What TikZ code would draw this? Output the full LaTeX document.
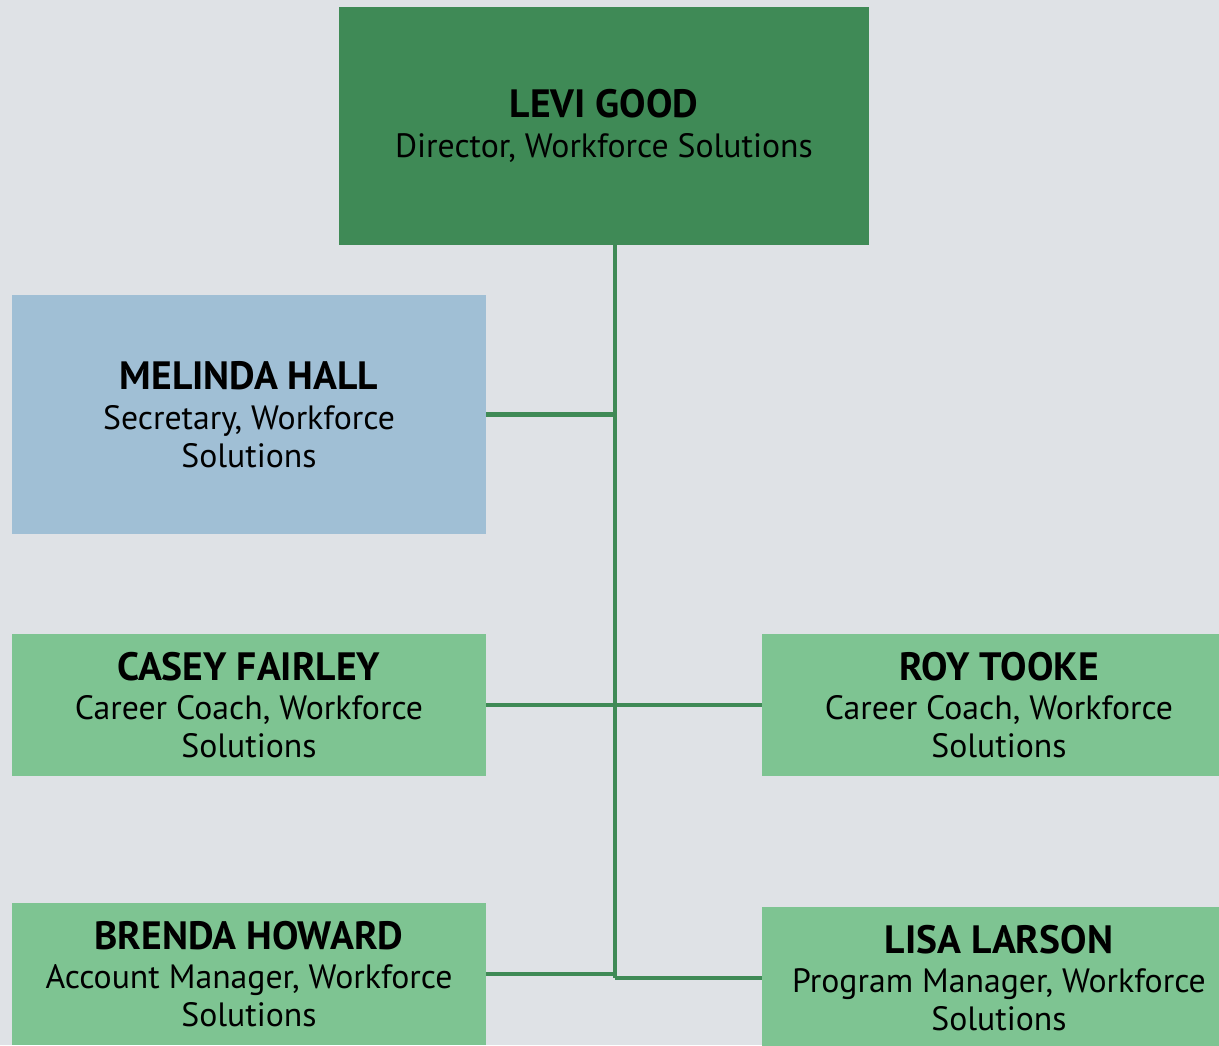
\documentclass[tikz,border=0pt]{standalone}
\usepackage{fontspec}
\setmainfont{PT Sans}
\usepackage{tikz}
\usetikzlibrary{calc,positioning}
\definecolor{pagegray}{HTML}{DFE2E6}
\definecolor{topgreen}{HTML}{3F8A56}
\definecolor{staffblue}{HTML}{A0BFD5}
\definecolor{staffgreen}{HTML}{7EC492}
\tikzset{
  person/.style={inner sep=0pt, align=center, text=black,
    font=\fontsize{19.2}{21.6}\selectfont},
  headbox/.style={person, fill=topgreen, minimum width=10.6cm, minimum height=4.76cm},
  secbox/.style={person, fill=staffblue, minimum width=9.48cm, minimum height=4.78cm},
  staffbox/.style={person, fill=staffgreen, minimum width=9.48cm, minimum height=2.84cm},
  link/.style={draw=topgreen, line width=2.5pt}
}
\newcommand{\who}[1]{{\fontsize{22.5}{28}\selectfont\bfseries #1}\\[1pt]}

\begin{document}
\begin{tikzpicture}[x=0.02cm, y=-0.02cm]
  \fill[pagegray] (0,0) rectangle (1219,1045);
  \useasboundingbox (0,0) rectangle (1219,1045);
  \clip (0,0) rectangle (1219,1045);

  \node[headbox] (levi) at (604,126) {\who{LEVI GOOD}Director, Workforce Solutions};
  \node[secbox] (melinda) at (249,414.5) {\who{MELINDA HALL}Secretary, Workforce\\Solutions};
  \node[staffbox] (casey) at (249,705) {\who{CASEY FAIRLEY}Career Coach, Workforce\\Solutions};
  \node[staffbox] (roy) at (999,705) {\who{ROY TOOKE}Career Coach, Workforce\\Solutions};
  \node[staffbox] (brenda) at (249,974) {\who{BRENDA HOWARD}Account Manager, Workforce\\Solutions};
  \node[staffbox] (lisa) at (999,978) {\who{LISA LARSON}Program Manager, Workforce\\Solutions};

  % trunk below the director
  \coordinate (trunk) at ($(levi.south)+(11,0)$);
  \coordinate (trunkend) at (trunk |- lisa.west);
  \draw[link] (trunk) -- (trunkend);

  \draw[link] (melinda.east) -- (melinda.east -| trunk);
  \draw[link] (casey.east) -- (casey.east -| trunk);
  \draw[link] (roy.west) -- (roy.west -| trunk);
  \draw[link] (brenda.east) -- (brenda.east -| trunk);
  \draw[link] (lisa.west) -- (trunkend);
\end{tikzpicture}
\end{document}
